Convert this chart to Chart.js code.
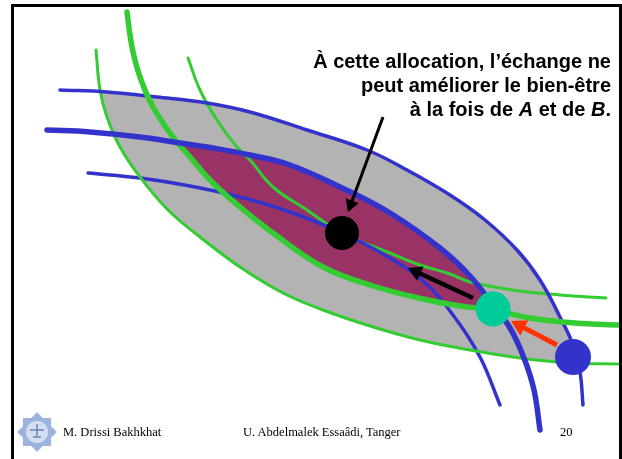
<!DOCTYPE html>
<html>
<head>
<meta charset="utf-8">
<script src="https://cdn.jsdelivr.net/npm/chart.js@4.4.1/dist/chart.umd.min.js"></script>
<style>
  html, body { margin: 0; padding: 0; background: #fff; }
  #slide { position: relative; width: 622px; height: 459px; overflow: hidden; }
  #wrap { position: absolute; left: 0; top: 0; width: 622px; height: 459px; }
  #frame { position: absolute; left: 11px; top: 4px; width: 611px; height: 500px;
           border: 3px solid #000; box-sizing: border-box; }
  #note { position: absolute; right: 11px; top: 49px; color: #000; text-align: right;
          font: bold 20px "Liberation Sans", Arial, sans-serif; line-height: 24px; white-space: nowrap; }
  .foot { position: absolute; top: 425px; color: #000; white-space: nowrap;
          font: 12.5px "Liberation Serif", "Times New Roman", serif; line-height: 15px; }
  #logo { position: absolute; left: 15px; top: 410px; }
</style>
</head>
<body>
<div id="slide">
  <div id="wrap"><canvas id="box" width="622" height="459"></canvas></div>
  <div id="frame"></div>
  <div id="note">À cette allocation, l’échange ne<br>peut améliorer le bien-être<br>à la fois de <i>A</i> et de <i>B</i>.</div>
  <svg id="logo" width="44" height="44" viewBox="0 0 44 44">
    <rect x="8" y="8" width="28" height="28" fill="#9db3dd"/>
    <rect x="8" y="8" width="28" height="28" fill="#9db3dd" transform="rotate(45 22 22)"/>
    <circle cx="22" cy="22" r="11" fill="#d3def2"/>
    <path d="M15 20 h14 M22 14 v12 M18 27 h8" stroke="#6f82aa" stroke-width="1.5"/>
  </svg>
  <div class="foot" style="left:63px">M. Drissi Bakhkhat</div>
  <div class="foot" style="left:243px">U. Abdelmalek Essaâdi, Tanger</div>
  <div class="foot" style="left:560px">20</div>
</div>
<script>
// courbes d'indifférence (x vers la droite, y vers le bas)
var greenOuter = [[96,50],[100,90],[107,117],[120,147],[140,177],[168,210],[200,237],[240,267],
  [283,293],[323,310],[370,326],[420,340],[470,350],[520,358],[570,363],[618,364]];
var greenThick = [[127,12],[132,47],[140,77],[153,107],[173,137],[190,157],[213,183],[240,207],
  [273,233],[323,267],[373,286],[423,299],[460,306],[493,310],[530,318],[575,323],[621,325]];
var greenInner = [[188,58],[200,90],[217,120],[237,147],[250,160],[273,187],[307,210],[342,233],
  [390,253],[420,265],[450,274],[470,282],[520,291],[560,295],[606,298]];
var blueOuter = [[60,90],[107,92],[157,97],[207,103],[250,112],[307,130],[367,150],[407,170],
  [450,195],[485,220],[517,250],[540,280],[560,317],[573,345],[580,372],[583,405]];
var blueThick = [[47,130],[90,132],[140,137],[180,143],[213,148],[250,155],[290,165],[340,187],
  [390,213],[440,248],[470,276],[493,305],[510,328],[524,358],[534,390],[540,430]];
var blueInner = [[88,173],[140,178],[190,186],[240,197],[290,212],[342,233],[383,254],[423,281],
  [453,315],[480,357],[500,405]];

// extrémités des lentilles
var grayTips = [[100,92],[578,363]];
var purpleTips = [[178,143],[493,308]];

// allocations
var blackDot = [342,233];
var tealDot = [493,309];
var blueDot = [573,357];

// flèches : [départ, pointe]
var pointerArrow = [[383,117],[348,212]];
var moveArrow = [[473,298],[408,268]];
var redArrow = [[557,345],[511,321]];

var GREEN = "#33cc33", BLUE = "#3333cc";

function pt(p) { return { x: p[0], y: p[1] }; }

function lensEdge(curve, tips) {
  var a = tips[0], b = tips[1];
  var inside = curve.filter(function (p) { return p[0] > a[0] && p[0] < b[0]; });
  return [a].concat(inside, [b]).map(pt);
}

function curve(data, color, width) {
  return {
    data: data.map(pt), borderColor: color, borderWidth: width,
    borderCapStyle: "round", pointRadius: 0, tension: 0.4, fill: false
  };
}

function dot(p, color, r) {
  return {
    data: [pt(p)], showLine: false, pointRadius: r,
    pointBackgroundColor: color, pointBorderWidth: 0
  };
}

function arrow(a, color, width, head) {
  var t = a[0], h = a[1];
  var dx = h[0] - t[0], dy = h[1] - t[1];
  var len = Math.sqrt(dx * dx + dy * dy);
  var ux = dx / len, uy = dy / len;
  var c = [h[0] - ux * head, h[1] - uy * head];
  return {
    data: [pt(t), pt(c)], borderColor: color, borderWidth: width, tension: 0,
    pointRadius: [0, head], pointStyle: "triangle",
    pointRotation: Math.atan2(ux, -uy) * 180 / Math.PI,
    pointBackgroundColor: color, pointBorderWidth: 0
  };
}

function edge(data, fillColor) {
  return {
    data: data, borderColor: "transparent", borderWidth: 0, pointRadius: 0,
    tension: 0.4, fill: fillColor ? { target: "+1" } : false,
    backgroundColor: fillColor || "transparent"
  };
}

// le premier jeu de données est dessiné au-dessus
var datasets = [
  dot(blackDot, "#000000", 17),
  dot(tealDot, "#00cc99", 17.5),
  dot(blueDot, "#3333cc", 18),
  arrow(pointerArrow, "#000000", 3, 8),
  arrow(moveArrow, "#000000", 4.5, 9),
  arrow(redArrow, "#ff3300", 5, 10),
  curve(blueThick, BLUE, 5.5),
  curve(greenThick, GREEN, 5.5),
  curve(blueOuter, BLUE, 3.5),
  curve(greenOuter, GREEN, 3),
  curve(blueInner, BLUE, 3.5),
  curve(greenInner, GREEN, 3),
  edge(lensEdge(blueThick, purpleTips), "#993366"),
  edge(lensEdge(greenThick, purpleTips)),
  edge(lensEdge(blueOuter, grayTips), "#b3b3b3"),
  edge(lensEdge(greenOuter, grayTips))
];

var ctx = document.getElementById("box").getContext("2d");
var box = new Chart(ctx, {
  type: "line",
  data: { datasets: datasets },
  options: {
    responsive: false,
    animation: false,
    events: [],
    devicePixelRatio: 1,
    layout: { padding: 0, autoPadding: false },
    plugins: { legend: { display: false }, tooltip: { enabled: false } },
    scales: {
      x: { type: "linear", min: 0, max: 622, display: false },
      y: { type: "linear", min: 0, max: 459, reverse: true, display: false }
    }
  }
});
</script>
</body>
</html>
